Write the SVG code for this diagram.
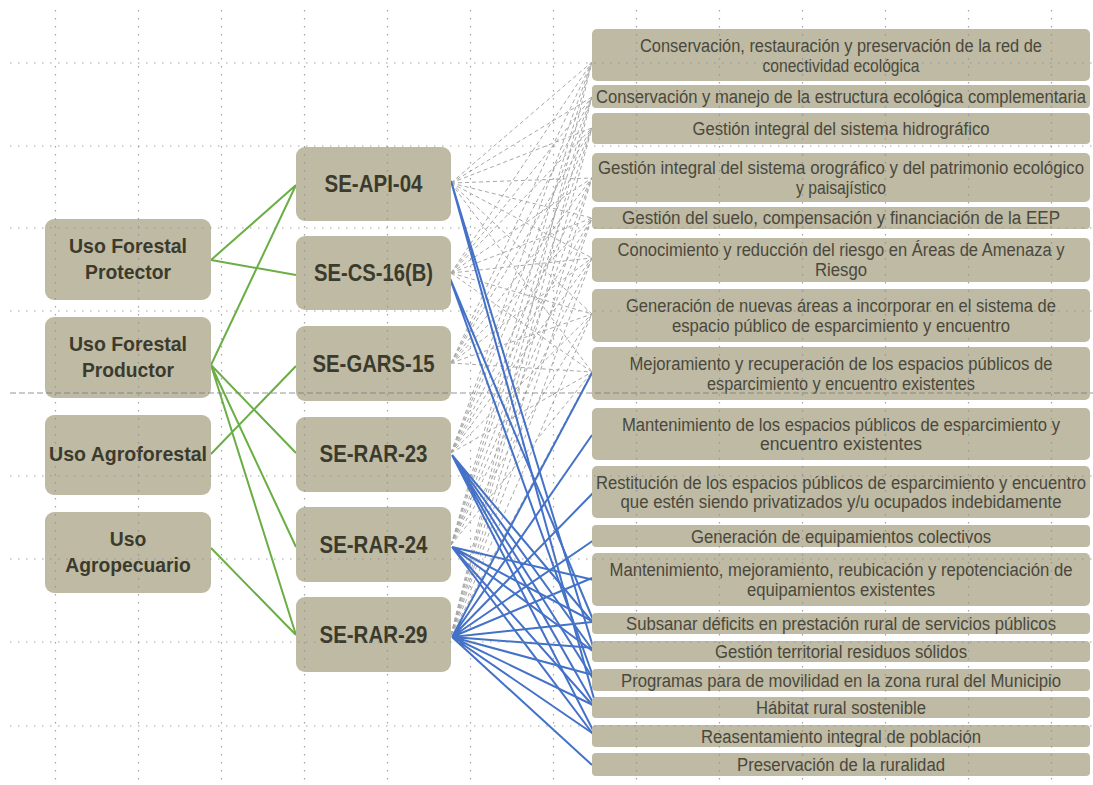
<svg xmlns="http://www.w3.org/2000/svg" width="1093" height="785" viewBox="0 0 1093 785">
<style>
.bg{fill:#ffffff}
.box{fill:#BEBAA3}
.bt{font-family:"Liberation Sans",Arial,sans-serif;font-weight:bold;fill:#3c3a2c;text-anchor:middle}
.lt{font-size:21px}
.mt{font-size:23px}
.rt{font-family:"Liberation Sans",Arial,sans-serif;font-size:18px;fill:#4a483d;text-anchor:middle}
.g{stroke:#6AAE45;stroke-width:2;fill:none}
.b{stroke:#4472C8;stroke-width:2;fill:none}
.d{stroke:#A8A8A8;stroke-width:1;stroke-dasharray:4 3;fill:none}
.grid{stroke:#8c8c8c;stroke-width:1.2;stroke-dasharray:1.5 6.5;fill:none;opacity:0.8}
.gridd{stroke:#7a7a7a;stroke-width:1;stroke-dasharray:6 3;fill:none;opacity:0.8}
</style>
<rect class="bg" x="0" y="0" width="1093" height="785"/>

<g id="connectors">
  <g id="gray-dashed">
    <path class="d" d="M451,183L592,62M451,183L592,97M451,183L592,128M451,183L592,178M451,183L592,218M451,183L592,258M451,183L592,314M451,183L592,372"/>
    <path class="d" d="M451,273L592,62M451,273L592,97M451,273L592,128M451,273L592,178M451,273L592,218M451,273L592,258M451,273L592,314M451,273L592,372"/>
    <path class="d" d="M451,363L592,62M451,363L592,97M451,363L592,128M451,363L592,178M451,363L592,218M451,363L592,258M451,363L592,314M451,363L592,372"/>
    <path class="d" d="M451,453L592,62M451,453L592,97M451,453L592,128M451,453L592,178M451,453L592,218M451,453L592,258M451,453L592,314M451,453L592,372"/>
    <path class="d" d="M451,545L592,62M451,545L592,97M451,545L592,128M451,545L592,178M451,545L592,218M451,545L592,258M451,545L592,314M451,545L592,372"/>
    <path class="d" d="M451,635L592,62M451,635L592,97M451,635L592,128M451,635L592,178M451,635L592,218M451,635L592,258M451,635L592,314M451,635L592,372"/>
  </g>
  <g id="green">
    <path class="g" d="M211,260L296,185M211,260L296,275M211,365L296,185M211,365L296,453M211,365L296,547M211,365L296,635M211,454L296,366M211,548L296,635"/>
  </g>
  <g id="blue">
    <path class="b" d="M451,181L594,650M451,181L596,706"/>
    <path class="b" d="M449,276L594,622M449,276L594,679"/>
    <path class="b" d="M452,455L594,624M452,455L594,652M452,455L594,680M452,455L596,708M452,455L596,736"/>
    <path class="b" d="M452,547L594,580M452,547L594,622M452,547L594,652M452,547L596,709M452,547L596,738"/>
    <path class="b" d="M452,637L592,373M452,637L592,435M452,637L593,493M452,637L594,540M452,637L592,578M452,637L592,622M452,637L595,648M452,637L593,675M452,637L597,707M452,637L598,737M452,637L592,765"/>
  </g>
</g>

<g id="n-protector"><rect class="box" x="45" y="219" width="166" height="81" rx="9"/><text class="bt lt" x="128" y="253" textLength="118" lengthAdjust="spacingAndGlyphs">Uso Forestal</text><text class="bt lt" x="128" y="279" textLength="86" lengthAdjust="spacingAndGlyphs">Protector</text></g>
<g id="n-productor"><rect class="box" x="45" y="317" width="166" height="81" rx="9"/><text class="bt lt" x="128" y="351" textLength="118" lengthAdjust="spacingAndGlyphs">Uso Forestal</text><text class="bt lt" x="128" y="377" textLength="92" lengthAdjust="spacingAndGlyphs">Productor</text></g>
<g id="n-agroforestal"><rect class="box" x="45" y="415" width="166" height="80" rx="9"/><text class="bt lt" x="128" y="461" textLength="158" lengthAdjust="spacingAndGlyphs">Uso Agroforestal</text></g>
<g id="n-agropecuario"><rect class="box" x="45" y="512" width="166" height="81" rx="9"/><text class="bt lt" x="128" y="546" textLength="36.5" lengthAdjust="spacingAndGlyphs">Uso</text><text class="bt lt" x="128" y="572" textLength="125.5" lengthAdjust="spacingAndGlyphs">Agropecuario</text></g>

<g id="n-se-api-04"><rect class="box" x="296" y="147" width="155" height="74" rx="9"/><text class="bt mt" x="373.5" y="192" textLength="98" lengthAdjust="spacingAndGlyphs">SE-API-04</text></g>
<g id="n-se-cs-16b"><rect class="box" x="296" y="236" width="155" height="74" rx="9"/><text class="bt mt" x="373.5" y="281" textLength="119" lengthAdjust="spacingAndGlyphs">SE-CS-16(B)</text></g>
<g id="n-se-gars-15"><rect class="box" x="296" y="326" width="155" height="75" rx="9"/><text class="bt mt" x="373.5" y="371.5" textLength="122" lengthAdjust="spacingAndGlyphs">SE-GARS-15</text></g>
<g id="n-se-rar-23"><rect class="box" x="296" y="417" width="155" height="75" rx="9"/><text class="bt mt" x="373.5" y="461.5" textLength="108" lengthAdjust="spacingAndGlyphs">SE-RAR-23</text></g>
<g id="n-se-rar-24"><rect class="box" x="296" y="507" width="155" height="75" rx="9"/><text class="bt mt" x="373.5" y="552.5" textLength="108" lengthAdjust="spacingAndGlyphs">SE-RAR-24</text></g>
<g id="n-se-rar-29"><rect class="box" x="296" y="597" width="155" height="75" rx="9"/><text class="bt mt" x="373.5" y="642.5" textLength="108" lengthAdjust="spacingAndGlyphs">SE-RAR-29</text></g>

<g id="r01"><rect class="box" x="592" y="29" width="498" height="52" rx="5"/><text class="rt" x="841" y="52" textLength="402" lengthAdjust="spacingAndGlyphs">Conservación, restauración y preservación de la red de</text><text class="rt" x="841" y="71.5" textLength="157" lengthAdjust="spacingAndGlyphs">conectividad ecológica</text></g>
<g id="r02"><rect class="box" x="592" y="85" width="498" height="23" rx="4"/><text class="rt" x="841" y="102.5" textLength="490" lengthAdjust="spacingAndGlyphs">Conservación y manejo de la estructura ecológica complementaria</text></g>
<g id="r03"><rect class="box" x="592" y="113" width="498" height="31" rx="4"/><text class="rt" x="841" y="135" textLength="297" lengthAdjust="spacingAndGlyphs">Gestión integral del sistema hidrográfico</text></g>
<g id="r04"><rect class="box" x="592" y="153" width="498" height="49" rx="5"/><text class="rt" x="841" y="174" textLength="486" lengthAdjust="spacingAndGlyphs">Gestión integral del sistema orográfico y del patrimonio ecológico</text><text class="rt" x="841" y="193.5" textLength="90" lengthAdjust="spacingAndGlyphs">y paisajístico</text></g>
<g id="r05"><rect class="box" x="592" y="207" width="498" height="22" rx="4"/><text class="rt" x="841" y="224" textLength="438" lengthAdjust="spacingAndGlyphs">Gestión del suelo, compensación y financiación de la EEP</text></g>
<g id="r06"><rect class="box" x="592" y="238" width="498" height="44" rx="5"/><text class="rt" x="841" y="256" textLength="447" lengthAdjust="spacingAndGlyphs">Conocimiento y reducción del riesgo en Áreas de Amenaza y</text><text class="rt" x="841" y="275.5" textLength="52" lengthAdjust="spacingAndGlyphs">Riesgo</text></g>
<g id="r07"><rect class="box" x="592" y="289" width="498" height="53" rx="5"/><text class="rt" x="841" y="312" textLength="430" lengthAdjust="spacingAndGlyphs">Generación de nuevas áreas a incorporar en el sistema de</text><text class="rt" x="841" y="331.5" textLength="338" lengthAdjust="spacingAndGlyphs">espacio público de esparcimiento y encuentro</text></g>
<g id="r08"><rect class="box" x="592" y="347" width="498" height="53" rx="5"/><text class="rt" x="841" y="370" textLength="423" lengthAdjust="spacingAndGlyphs">Mejoramiento y recuperación de los espacios públicos de</text><text class="rt" x="841" y="389.5" textLength="268" lengthAdjust="spacingAndGlyphs">esparcimiento y encuentro existentes</text></g>
<g id="r09"><rect class="box" x="592" y="408" width="498" height="52" rx="5"/><text class="rt" x="841" y="430.5" textLength="438" lengthAdjust="spacingAndGlyphs">Mantenimiento de los espacios públicos de esparcimiento y</text><text class="rt" x="841" y="450" textLength="162" lengthAdjust="spacingAndGlyphs">encuentro existentes</text></g>
<g id="r10"><rect class="box" x="592" y="466" width="498" height="52" rx="5"/><text class="rt" x="841" y="488.5" textLength="490" lengthAdjust="spacingAndGlyphs">Restitución de los espacios públicos de esparcimiento y encuentro</text><text class="rt" x="841" y="508" textLength="441" lengthAdjust="spacingAndGlyphs">que estén siendo privatizados y/u ocupados indebidamente</text></g>
<g id="r11"><rect class="box" x="592" y="525" width="498" height="22" rx="4"/><text class="rt" x="841" y="542.5" textLength="300" lengthAdjust="spacingAndGlyphs">Generación de equipamientos colectivos</text></g>
<g id="r12"><rect class="box" x="592" y="553" width="498" height="53" rx="5"/><text class="rt" x="841" y="576" textLength="463" lengthAdjust="spacingAndGlyphs">Mantenimiento, mejoramiento, reubicación y repotenciación de</text><text class="rt" x="841" y="595.5" textLength="188" lengthAdjust="spacingAndGlyphs">equipamientos existentes</text></g>
<g id="r13"><rect class="box" x="592" y="613" width="498" height="21" rx="4"/><text class="rt" x="841" y="630" textLength="430" lengthAdjust="spacingAndGlyphs">Subsanar déficits en prestación rural de servicios públicos</text></g>
<g id="r14"><rect class="box" x="592" y="641" width="498" height="21" rx="4"/><text class="rt" x="841" y="658" textLength="252" lengthAdjust="spacingAndGlyphs">Gestión territorial residuos sólidos</text></g>
<g id="r15"><rect class="box" x="592" y="669" width="498" height="22" rx="4"/><text class="rt" x="841" y="686.5" textLength="440" lengthAdjust="spacingAndGlyphs">Programas para de movilidad en la zona rural del Municipio</text></g>
<g id="r16"><rect class="box" x="592" y="697" width="498" height="21" rx="4"/><text class="rt" x="841" y="714" textLength="170" lengthAdjust="spacingAndGlyphs">Hábitat rural sostenible</text></g>
<g id="r17"><rect class="box" x="592" y="725" width="498" height="22" rx="4"/><text class="rt" x="841" y="742.5" textLength="280" lengthAdjust="spacingAndGlyphs">Reasentamiento integral de población</text></g>
<g id="r18"><rect class="box" x="592" y="753" width="498" height="23" rx="4"/><text class="rt" x="841" y="771" textLength="208" lengthAdjust="spacingAndGlyphs">Preservación de la ruralidad</text></g>

<g id="grid">
  <path class="grid" d="M10,63H1093M10,146H1093M10,228H1093M10,311H1093M10,476H1093M10,559H1093M10,642H1093M10,726H1093"/>
  <path class="gridd" d="M10,393H1093"/>
  <path class="grid" d="M55.5,10V785M138.5,10V785M221.5,10V785M304.5,10V785M387.5,10V785M470.5,10V785M553.5,10V785M636.5,10V785M719.5,10V785M802.5,10V785M885.5,10V785M968.5,10V785M1051.5,10V785"/>
</g>
</svg>
